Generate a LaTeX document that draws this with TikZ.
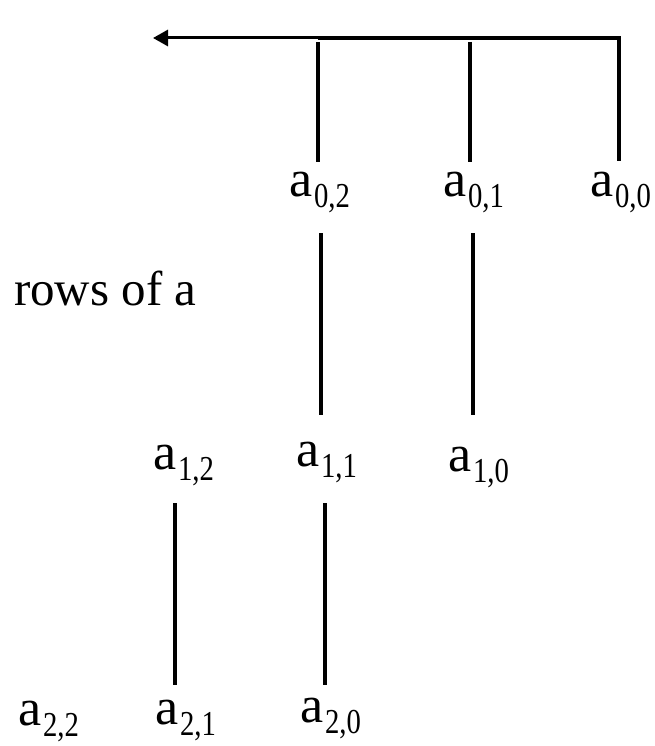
\documentclass[tikz,border=0pt]{standalone}
\usepackage{graphicx}
\usepackage{fontspec}
\setmainfont{Liberation Serif}
\usetikzlibrary{arrows.meta}
\newcommand{\lbl}[1]{\fontsize{52}{60}\selectfont a\hspace{2pt}\raisebox{-11pt}{\scalebox{0.82}[1]{\fontsize{35}{40}\selectfont #1}}}
\tikzset{
  lab/.style={anchor=base west, inner sep=0pt, outer sep=0pt},
  wire/.style={line width=4pt, black},
}
\begin{document}
\begin{tikzpicture}[x=1pt,y=-1pt]
\useasboundingbox (0,0) rectangle (655,746);
% labels
\node[lab] (a02) at (289,196) {\lbl{0,2}};
\node[lab] (a01) at (443,196) {\lbl{0,1}};
\node[lab] (a00) at (590,196) {\lbl{0,0}};
\node[lab] (a12) at (153,469) {\lbl{1,2}};
\node[lab] (a11) at (296,466) {\lbl{1,1}};
\node[lab] (a10) at (448,471) {\lbl{1,0}};
\node[lab] (a22) at (18,725) {\lbl{2,2}};
\node[lab] (a21) at (155,724) {\lbl{2,1}};
\node[lab] (a20) at (300,722) {\lbl{2,0}};
\node[lab] (rows) at (14,305) {\fontsize{49}{56}\selectfont rows of a};
% top bus
\coordinate (t00) at (619,38);
\coordinate (t01) at (470,38);
\coordinate (t02) at (318,38);
\coordinate (tip) at (153,38);
\coordinate (b00) at (619,161);
\coordinate (u01) at (470,42);
\coordinate (b01) at (470,162);
\coordinate (u02) at (318,42);
\coordinate (b02) at (318,162);
\draw[wire] (b00) -- (t00) -- (t02);
\draw[line width=3pt, -{Triangle[length=15pt,width=16pt]}] (t02) -- (tip);
\draw[wire] (u01) -- (b01);
\draw[wire] (u02) -- (b02);
% middle lines
\coordinate (m1s) at (321,233);
\coordinate (m1e) at (321,415);
\coordinate (m2s) at (473,233);
\coordinate (m2e) at (473,415);
\draw[wire] (m1s) -- (m1e);
\draw[wire] (m2s) -- (m2e);
% lower lines
\coordinate (l1s) at (175,503);
\coordinate (l1e) at (175,685);
\coordinate (l2s) at (325,503);
\coordinate (l2e) at (325,685);
\draw[wire] (l1s) -- (l1e);
\draw[wire] (l2s) -- (l2e);
\end{tikzpicture}
\end{document}
